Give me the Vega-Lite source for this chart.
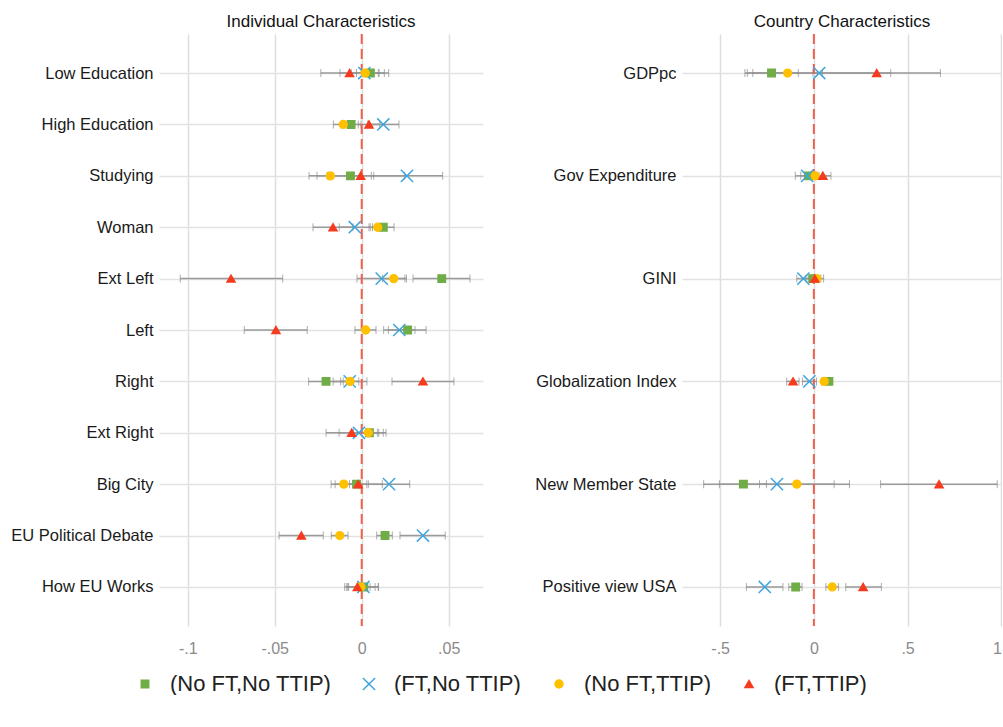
{
  "$schema": "https://vega.github.io/schema/vega-lite/v6.json",
  "padding": {"left": 0, "top": 13, "right": 0, "bottom": 0},
  "config": {
    "view": {"stroke": null},
    "font": "Liberation Sans",
    "legend": {"orient": "none", "legendX": -25, "legendY": 639, "direction": "horizontal", "labelFontSize": 22, "labelColor": "#222", "labelLimit": 400, "symbolStrokeWidth": 1.5, "columnPadding": 26, "labelOffset": 14},
    "axis": {"labelFont": "Liberation Sans"}
  },
  "datasets": {
    "ind": [
      {"var": "Low Education", "grp": "(No FT,No TTIP)", "est": 0.005, "lo": -0.003, "hi": 0.013},
      {"var": "Low Education", "grp": "(FT,No TTIP)", "est": 0.0015, "lo": -0.0125, "hi": 0.0155},
      {"var": "Low Education", "grp": "(No FT,TTIP)", "est": 0.002, "lo": -0.006, "hi": 0.010},
      {"var": "Low Education", "grp": "(FT,TTIP)", "est": -0.007, "lo": -0.0235, "hi": 0.0095},
      {"var": "High Education", "grp": "(No FT,No TTIP)", "est": -0.0061, "lo": -0.0118, "hi": -0.0004},
      {"var": "High Education", "grp": "(FT,No TTIP)", "est": 0.0124, "lo": 0.0034, "hi": 0.0214},
      {"var": "High Education", "grp": "(No FT,TTIP)", "est": -0.0106, "lo": -0.0163, "hi": -0.0049},
      {"var": "High Education", "grp": "(FT,TTIP)", "est": 0.0042, "lo": -0.002, "hi": 0.0104},
      {"var": "Studying", "grp": "(No FT,No TTIP)", "est": -0.0065, "lo": -0.0199, "hi": 0.0069},
      {"var": "Studying", "grp": "(FT,No TTIP)", "est": 0.026, "lo": 0.0055, "hi": 0.0465},
      {"var": "Studying", "grp": "(No FT,TTIP)", "est": -0.018, "lo": -0.0303, "hi": -0.0057},
      {"var": "Studying", "grp": "(FT,TTIP)", "est": -0.0006, "lo": -0.0257, "hi": 0.0245},
      {"var": "Woman", "grp": "(No FT,No TTIP)", "est": 0.0124, "lo": 0.0062, "hi": 0.0186},
      {"var": "Woman", "grp": "(FT,No TTIP)", "est": -0.004, "lo": -0.0129, "hi": 0.0049},
      {"var": "Woman", "grp": "(No FT,TTIP)", "est": 0.0092, "lo": 0.0042, "hi": 0.0142},
      {"var": "Woman", "grp": "(FT,TTIP)", "est": -0.0165, "lo": -0.028, "hi": -0.005},
      {"var": "Ext Left", "grp": "(No FT,No TTIP)", "est": 0.046, "lo": 0.0295, "hi": 0.0622},
      {"var": "Ext Left", "grp": "(FT,No TTIP)", "est": 0.0115, "lo": -0.0027, "hi": 0.0257},
      {"var": "Ext Left", "grp": "(No FT,TTIP)", "est": 0.0184, "lo": 0.012, "hi": 0.0248},
      {"var": "Ext Left", "grp": "(FT,TTIP)", "est": -0.0751, "lo": -0.1043, "hi": -0.0454},
      {"var": "Left", "grp": "(No FT,No TTIP)", "est": 0.0264, "lo": 0.0153, "hi": 0.037},
      {"var": "Left", "grp": "(FT,No TTIP)", "est": 0.0216, "lo": 0.0126, "hi": 0.0306},
      {"var": "Left", "grp": "(No FT,TTIP)", "est": 0.0023, "lo": -0.0039, "hi": 0.0082},
      {"var": "Left", "grp": "(FT,TTIP)", "est": -0.0493, "lo": -0.0675, "hi": -0.0313},
      {"var": "Right", "grp": "(No FT,No TTIP)", "est": -0.0205, "lo": -0.0305, "hi": -0.0106},
      {"var": "Right", "grp": "(FT,No TTIP)", "est": -0.0069, "lo": -0.0121, "hi": -0.0017},
      {"var": "Right", "grp": "(No FT,TTIP)", "est": -0.0067, "lo": -0.0164, "hi": 0.003},
      {"var": "Right", "grp": "(FT,TTIP)", "est": 0.0352, "lo": 0.0174, "hi": 0.053},
      {"var": "Ext Right", "grp": "(No FT,No TTIP)", "est": 0.0044, "lo": -0.0052, "hi": 0.014},
      {"var": "Ext Right", "grp": "(FT,No TTIP)", "est": -0.0016, "lo": -0.013, "hi": 0.0098},
      {"var": "Ext Right", "grp": "(No FT,TTIP)", "est": 0.0038, "lo": -0.0048, "hi": 0.0124},
      {"var": "Ext Right", "grp": "(FT,TTIP)", "est": -0.0058, "lo": -0.0205, "hi": 0.009},
      {"var": "Big City", "grp": "(No FT,No TTIP)", "est": -0.0029, "lo": -0.0176, "hi": 0.0118},
      {"var": "Big City", "grp": "(FT,No TTIP)", "est": 0.0157, "lo": 0.0038, "hi": 0.0276},
      {"var": "Big City", "grp": "(No FT,TTIP)", "est": -0.0103, "lo": -0.0153, "hi": -0.0053},
      {"var": "Big City", "grp": "(FT,TTIP)", "est": -0.002, "lo": -0.007, "hi": 0.0029},
      {"var": "EU Political Debate", "grp": "(No FT,No TTIP)", "est": 0.0134, "lo": 0.0086, "hi": 0.0176},
      {"var": "EU Political Debate", "grp": "(FT,No TTIP)", "est": 0.0352, "lo": 0.022, "hi": 0.048},
      {"var": "EU Political Debate", "grp": "(No FT,TTIP)", "est": -0.0126, "lo": -0.0175, "hi": -0.0079},
      {"var": "EU Political Debate", "grp": "(FT,TTIP)", "est": -0.0347, "lo": -0.0475, "hi": -0.0221},
      {"var": "How EU Works", "grp": "(No FT,No TTIP)", "est": 0.0012, "lo": -0.0086, "hi": 0.0096},
      {"var": "How EU Works", "grp": "(FT,No TTIP)", "est": 0.001, "lo": -0.0075, "hi": 0.0095},
      {"var": "How EU Works", "grp": "(No FT,TTIP)", "est": -0.0004, "lo": -0.008, "hi": 0.0077},
      {"var": "How EU Works", "grp": "(FT,TTIP)", "est": -0.0025, "lo": -0.0098, "hi": 0.0048}
    ],
    "cty": [
      {"var": "GDPpc", "grp": "(No FT,No TTIP)", "est": -0.226, "lo": -0.368, "hi": -0.083},
      {"var": "GDPpc", "grp": "(FT,No TTIP)", "est": 0.0285, "lo": -0.355, "hi": 0.41},
      {"var": "GDPpc", "grp": "(No FT,TTIP)", "est": -0.14, "lo": -0.326, "hi": 0.046},
      {"var": "GDPpc", "grp": "(FT,TTIP)", "est": 0.335, "lo": -0.005, "hi": 0.675},
      {"var": "Gov Expenditure", "grp": "(No FT,No TTIP)", "est": -0.029, "lo": -0.07, "hi": 0.012},
      {"var": "Gov Expenditure", "grp": "(FT,No TTIP)", "est": -0.036, "lo": -0.099, "hi": 0.027},
      {"var": "Gov Expenditure", "grp": "(No FT,TTIP)", "est": 0.007, "lo": -0.03, "hi": 0.044},
      {"var": "Gov Expenditure", "grp": "(FT,TTIP)", "est": 0.048, "lo": 0.005, "hi": 0.091},
      {"var": "GINI", "grp": "(No FT,No TTIP)", "est": -0.005, "lo": -0.03, "hi": 0.02},
      {"var": "GINI", "grp": "(FT,No TTIP)", "est": -0.056, "lo": -0.091, "hi": -0.021},
      {"var": "GINI", "grp": "(No FT,TTIP)", "est": 0.016, "lo": -0.005, "hi": 0.037},
      {"var": "GINI", "grp": "(FT,TTIP)", "est": 0.005, "lo": -0.042, "hi": 0.052},
      {"var": "Globalization Index", "grp": "(No FT,No TTIP)", "est": 0.08, "lo": 0.066, "hi": 0.094},
      {"var": "Globalization Index", "grp": "(FT,No TTIP)", "est": -0.024, "lo": -0.061, "hi": 0.014},
      {"var": "Globalization Index", "grp": "(No FT,TTIP)", "est": 0.055, "lo": 0.041, "hi": 0.069},
      {"var": "Globalization Index", "grp": "(FT,TTIP)", "est": -0.111, "lo": -0.145, "hi": -0.079},
      {"var": "New Member State", "grp": "(No FT,No TTIP)", "est": -0.376, "lo": -0.504, "hi": -0.253},
      {"var": "New Member State", "grp": "(FT,No TTIP)", "est": -0.197, "lo": -0.588, "hi": 0.19},
      {"var": "New Member State", "grp": "(No FT,TTIP)", "est": -0.091, "lo": -0.29, "hi": 0.108},
      {"var": "New Member State", "grp": "(FT,TTIP)", "est": 0.668, "lo": 0.356, "hi": 0.978},
      {"var": "Positive view USA", "grp": "(No FT,No TTIP)", "est": -0.097, "lo": -0.134, "hi": -0.063},
      {"var": "Positive view USA", "grp": "(FT,No TTIP)", "est": -0.262, "lo": -0.36, "hi": -0.165},
      {"var": "Positive view USA", "grp": "(No FT,TTIP)", "est": 0.098, "lo": 0.064, "hi": 0.132},
      {"var": "Positive view USA", "grp": "(FT,TTIP)", "est": 0.263, "lo": 0.17, "hi": 0.36}
    ]
  },
  "hconcat": [
    {
      "title": {"text": "Individual Characteristics", "fontSize": 17, "fontWeight": "normal", "color": "#111", "offset": 2},
      "width": 324,
      "height": 592,
      "data": {"name": "ind"},
      "layer": [
        {
          "mark": {"type": "rule", "color": "#9a9a9a", "strokeWidth": 1.5},
          "encoding": {
            "x": {"field": "lo", "type": "quantitative", "scale": {"domain": [-0.1165, 0.0697], "nice": false, "zero": false},
                  "axis": {"title": null, "values": [-0.1, -0.05, 0, 0.05], "labelExpr": "datum.value == 0 ? '0' : replace(toString(datum.value), '0.', '.')", "grid": true, "gridColor": "#dedede", "gridWidth": 1.5, "domain": false, "ticks": false, "labelFontSize": 16, "labelColor": "#8a8a8a", "labelPadding": 14}},
            "x2": {"field": "hi"},
            "y": {"field": "var", "type": "nominal", "sort": null,
                  "scale": {"type": "point", "domain": ["Low Education", "High Education", "Studying", "Woman", "Ext Left", "Left", "Right", "Ext Right", "Big City", "EU Political Debate", "How EU Works"], "padding": 0.76},
                  "axis": {"title": null, "grid": true, "gridColor": "#e2e2e2", "gridWidth": 1.5, "domain": false, "ticks": false, "labelFontSize": 16.5, "labelColor": "#1a1a1a", "labelPadding": 6, "minExtent": 159, "maxExtent": 159}}
          }
        },
        {
          "mark": {"type": "tick", "color": "#8a8a8a", "size": 8, "thickness": 1},
          "encoding": {"x": {"field": "lo", "type": "quantitative"}, "y": {"field": "var", "type": "nominal", "sort": null}}
        },
        {
          "mark": {"type": "tick", "color": "#8a8a8a", "size": 8, "thickness": 1},
          "encoding": {"x": {"field": "hi", "type": "quantitative"}, "y": {"field": "var", "type": "nominal", "sort": null}}
        },
        {
          "data": {"values": [{"ref": 0}]},
          "mark": {"type": "rule", "color": "#F0604E", "strokeWidth": 2, "strokeDash": [10, 5]},
          "encoding": {"x": {"field": "ref", "type": "quantitative"}}
        },
        {
          "mark": {"type": "point", "filled": true, "opacity": 1, "strokeWidth": 1.5},
          "encoding": {
            "x": {"field": "est", "type": "quantitative"},
            "y": {"field": "var", "type": "nominal", "sort": null},
            "color": {"field": "grp", "type": "nominal", "title": null, "scale": {"domain": ["(No FT,No TTIP)", "(FT,No TTIP)", "(No FT,TTIP)", "(FT,TTIP)"], "range": ["#70AD47", "#3DA5DC", "#FFC000", "#F53B1F"]}},
            "stroke": {"field": "grp", "type": "nominal", "title": null, "scale": {"domain": ["(No FT,No TTIP)", "(FT,No TTIP)", "(No FT,TTIP)", "(FT,TTIP)"], "range": ["#70AD47", "#3DA5DC", "#FFC000", "#F53B1F"]}},
            "shape": {"field": "grp", "type": "nominal", "title": null, "scale": {"domain": ["(No FT,No TTIP)", "(FT,No TTIP)", "(No FT,TTIP)", "(FT,TTIP)"], "range": ["square", "M-1.6,-1.6L1.6,1.6M-1.6,1.6L1.6,-1.6", "circle", "triangle-up"]}},
            "size": {"field": "grp", "type": "nominal", "title": null, "scale": {"domain": ["(No FT,No TTIP)", "(FT,No TTIP)", "(No FT,TTIP)", "(FT,TTIP)"], "range": [55, 64, 42, 70]}}
          }
        }
      ]
    },
    {
      "title": {"text": "Country Characteristics", "fontSize": 17, "fontWeight": "normal", "color": "#111", "offset": 2},
      "width": 320,
      "height": 592,
      "data": {"name": "cty"},
      "layer": [
        {
          "mark": {"type": "rule", "color": "#9a9a9a", "strokeWidth": 1.5},
          "encoding": {
            "x": {"field": "lo", "type": "quantitative", "scale": {"domain": [-0.7035, 1.0036], "nice": false, "zero": false},
                  "axis": {"title": null, "values": [-0.5, 0, 0.5, 1], "labelExpr": "datum.value == 0 ? '0' : replace(toString(datum.value), '0.', '.')", "grid": true, "gridColor": "#dedede", "gridWidth": 1.5, "domain": false, "ticks": false, "labelFontSize": 16, "labelColor": "#8a8a8a", "labelPadding": 14}},
            "x2": {"field": "hi"},
            "y": {"field": "var", "type": "nominal", "sort": null,
                  "scale": {"type": "point", "domain": ["GDPpc", "Gov Expenditure", "GINI", "Globalization Index", "New Member State", "Positive view USA"], "padding": 0.38},
                  "axis": {"title": null, "grid": true, "gridColor": "#e2e2e2", "gridWidth": 1.5, "domain": false, "ticks": false, "labelFontSize": 16.5, "labelColor": "#1a1a1a", "labelPadding": 6, "minExtent": 140, "maxExtent": 140}}
          }
        },
        {
          "mark": {"type": "tick", "color": "#8a8a8a", "size": 8, "thickness": 1},
          "encoding": {"x": {"field": "lo", "type": "quantitative"}, "y": {"field": "var", "type": "nominal", "sort": null}}
        },
        {
          "mark": {"type": "tick", "color": "#8a8a8a", "size": 8, "thickness": 1},
          "encoding": {"x": {"field": "hi", "type": "quantitative"}, "y": {"field": "var", "type": "nominal", "sort": null}}
        },
        {
          "data": {"values": [{"ref": 0}]},
          "mark": {"type": "rule", "color": "#F0604E", "strokeWidth": 2, "strokeDash": [10, 5]},
          "encoding": {"x": {"field": "ref", "type": "quantitative"}}
        },
        {
          "mark": {"type": "point", "filled": true, "opacity": 1, "strokeWidth": 1.5},
          "encoding": {
            "x": {"field": "est", "type": "quantitative"},
            "y": {"field": "var", "type": "nominal", "sort": null},
            "color": {"field": "grp", "type": "nominal", "title": null, "scale": {"domain": ["(No FT,No TTIP)", "(FT,No TTIP)", "(No FT,TTIP)", "(FT,TTIP)"], "range": ["#70AD47", "#3DA5DC", "#FFC000", "#F53B1F"]}},
            "stroke": {"field": "grp", "type": "nominal", "title": null, "scale": {"domain": ["(No FT,No TTIP)", "(FT,No TTIP)", "(No FT,TTIP)", "(FT,TTIP)"], "range": ["#70AD47", "#3DA5DC", "#FFC000", "#F53B1F"]}},
            "shape": {"field": "grp", "type": "nominal", "title": null, "scale": {"domain": ["(No FT,No TTIP)", "(FT,No TTIP)", "(No FT,TTIP)", "(FT,TTIP)"], "range": ["square", "M-1.6,-1.6L1.6,1.6M-1.6,1.6L1.6,-1.6", "circle", "triangle-up"]}},
            "size": {"field": "grp", "type": "nominal", "title": null, "scale": {"domain": ["(No FT,No TTIP)", "(FT,No TTIP)", "(No FT,TTIP)", "(FT,TTIP)"], "range": [55, 64, 42, 70]}}
          }
        }
      ]
    }
  ],
  "spacing": 51
}
